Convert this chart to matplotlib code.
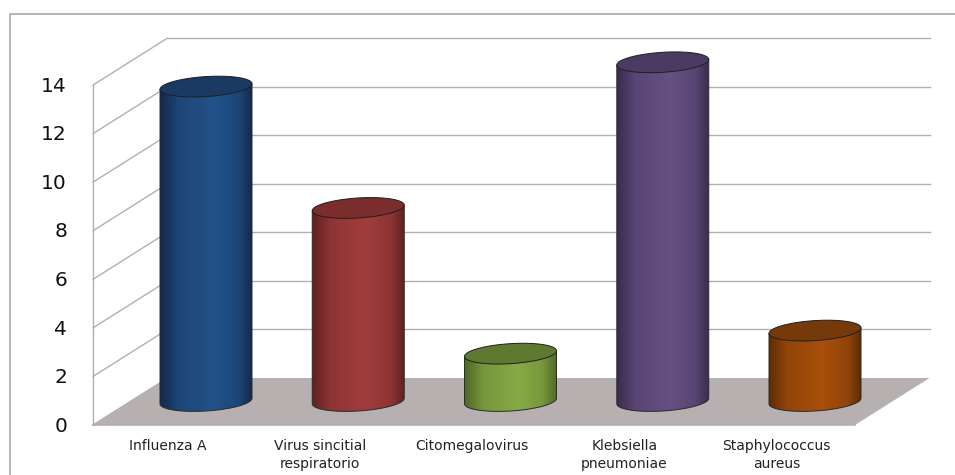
import numpy as np
import matplotlib
matplotlib.use("Agg")
import matplotlib.pyplot as plt
from matplotlib.colors import LinearSegmentedColormap, to_rgb
from matplotlib.patches import Polygon, PathPatch
from matplotlib.path import Path

# Values
categories = ["Influenza A", "Virus sincitial\nrespiratorio", "Citomegalovirus",
              "Klebsiella\npneumoniae", "Staphylococcus\naureus"]
values = [12.95, 7.95, 1.95, 13.95, 2.9]
y_ticks = [0, 2, 4, 6, 8, 10, 12, 14]

# centre, edge and top colours of each cylinder
center_colors = ["#225289", "#a23d3d", "#87aa45", "#665084", "#a84f0b"]
edge_colors = ["#12294a", "#5e2020", "#4f6926", "#3a2c4e", "#5e2d05"]
top_colors = ["#1b3a63", "#7b2c2c", "#5f7a30", "#4b3b62", "#763a0a"]

W, H = 955, 475
PX_X = 152.25   # pixels per category
PX_Y = 24.28    # pixels per value unit
X0_PX = 206     # pixel x of first category
Y0_PX = 425     # pixel y of value 0, front plane


def mix(a, b, f):
    return tuple((1 - f) * p + f * q for p, q in zip(to_rgb(a), to_rgb(b)))


fig = plt.figure(figsize=(W / 100, H / 100), dpi=100)
ax = fig.add_axes([0, 0, 1, 1])
ax.axis("off")

# box geometry in data units
left = (93 - X0_PX) / PX_X
right = (855 - X0_PX) / PX_X
dx = 74.5 / PX_X
dy = 47 / PX_Y
grid_color = "#b0b0b0"

# outer frame, open on the right
ax.plot([(9.5 - X0_PX) / PX_X, (9.5 - X0_PX) / PX_X, (W - X0_PX) / PX_X],
        [-(H - Y0_PX) / PX_Y, (Y0_PX - 14) / PX_Y, (Y0_PX - 14) / PX_Y],
        color="#a8a8a8", lw=1.2, zorder=1)

# floor
ax.add_patch(Polygon([(left, 0), (right, 0), (right + dx, dy), (left + dx, dy)],
                     closed=True, facecolor="#b7b0b0", edgecolor="none", zorder=1))
ax.plot([left, right], [0, 0], color=grid_color, lw=1.2, zorder=2)
ax.plot([left, left], [0, y_ticks[-1]], color=grid_color, lw=1.0, zorder=2)

# gridlines, side wall and back wall
for t in y_ticks:
    ax.plot([left, left + dx], [t, t + dy], color=grid_color, lw=1.0, zorder=2)
    if t > 0:
        ax.plot([left + dx, right + dx], [t + dy, t + dy], color=grid_color, lw=1.0, zorder=2)
    ax.text((67 - X0_PX) / PX_X, t - 0.05, str(t), ha="right", va="center",
            fontsize=14.5, color="#111111", family="DejaVu Sans")

# cylinders
rx = 46 / PX_X
ry = 10 / PX_Y
tilt = -2.8 / PX_Y   # rise of the right end of the ellipse
base = 24 / PX_Y
label_shift = -38.5 / PX_X
theta = np.linspace(0, 2 * np.pi, 121)

for i, (v, cat) in enumerate(zip(values, categories)):
    ex = i + rx * np.cos(theta)
    ey = ry * np.sin(theta) - tilt * np.cos(theta)
    front = theta >= np.pi   # lower half of the ellipse

    # body outline: along the front of the base, up the right side, back over the top
    body_x = np.r_[ex[front], i + rx, i - rx]
    body_y = np.r_[ey[front] + base, base + v - tilt, base + v + tilt]
    verts = np.column_stack([body_x, body_y])
    clip = PathPatch(Path(np.vstack([verts, verts[0]])), facecolor="none",
                     edgecolor="#2a2a2a", lw=0.7, zorder=4)
    ax.add_patch(clip)

    cmap = LinearSegmentedColormap.from_list(
        "c", [(0, edge_colors[i]),
              (0.2, mix(edge_colors[i], center_colors[i], 0.7)),
              (0.58, center_colors[i]),
              (0.85, mix(edge_colors[i], center_colors[i], 0.7)),
              (1, edge_colors[i])])
    grad = np.linspace(0, 1, 256).reshape(1, -1)
    im = ax.imshow(grad, cmap=cmap, vmin=0, vmax=1, aspect="auto", zorder=3,
                   extent=[i - rx, i + rx, base - 1, base + v + 1], interpolation="bilinear")
    im.set_clip_path(clip)

    ax.fill(ex, ey + base + v, facecolor=top_colors[i], edgecolor="#1f1f1f", lw=0.7, zorder=5)

    ax.text(i + label_shift, -(439 - Y0_PX) / PX_Y, cat, ha="center", va="top",
            fontsize=10, color="#222222", linespacing=1.35, family="DejaVu Sans")

ax.set_xlim(-X0_PX / PX_X, (W - X0_PX) / PX_X)
ax.set_ylim(-(H - Y0_PX) / PX_Y, Y0_PX / PX_Y)

fig.savefig("out.png", dpi=100)
